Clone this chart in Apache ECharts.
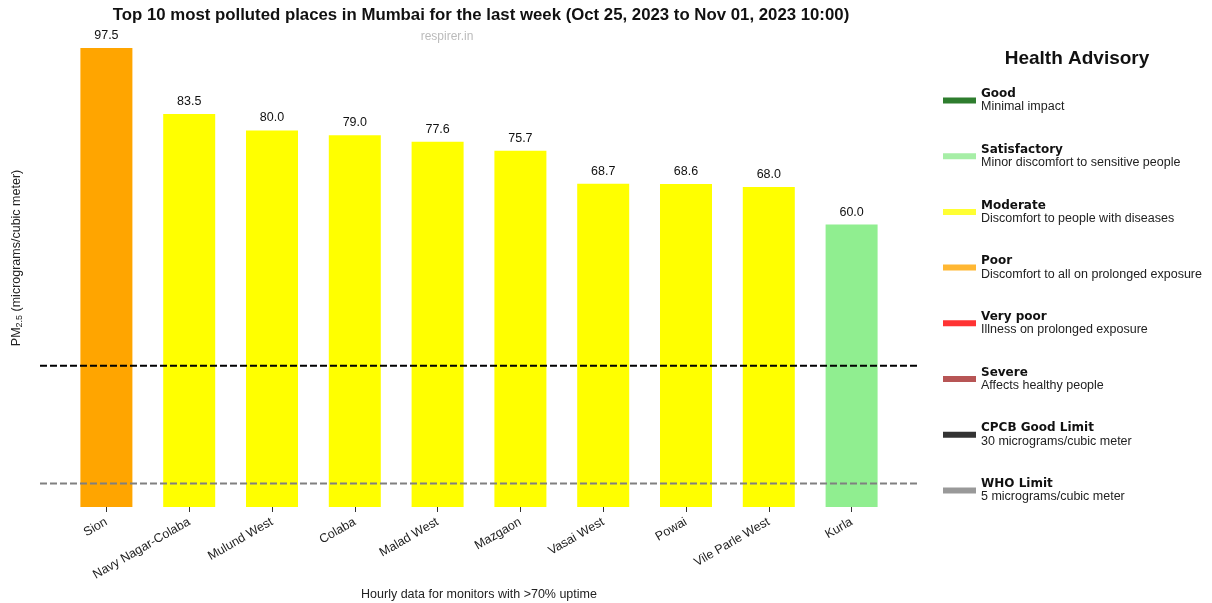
<!DOCTYPE html>
<html>
<head>
<meta charset="utf-8">
<script src="https://cdn.jsdelivr.net/npm/echarts@6/dist/echarts.min.js"></script>
<style>
html, body { margin: 0; padding: 0; background: #fff; }
#chart { width: 1212px; height: 603px; }
</style>
</head>
<body>
<div id="chart"></div>
<script>
var places = ["Sion", "Navy Nagar-Colaba", "Mulund West", "Colaba", "Malad West",
  "Mazgaon", "Vasai West", "Powai", "Vile Parle West", "Kurla"];
var pm25 = [97.5, 83.5, 80.0, 79.0, 77.6, 75.7, 68.7, 68.6, 68.0, 60.0];
var barColors = ["#ffa500", "#ffff00", "#ffff00", "#ffff00", "#ffff00",
  "#ffff00", "#ffff00", "#ffff00", "#ffff00", "#90ee90"];
var cpcbLimit = 30;
var whoLimit = 5;

var advisoryNames = ["Good", "Satisfactory", "Moderate", "Poor", "Very poor",
  "Severe", "CPCB Good Limit", "WHO Limit"];
var advisoryNotes = ["Minimal impact", "Minor discomfort to sensitive people",
  "Discomfort to people with diseases", "Discomfort to all on prolonged exposure",
  "Illness on prolonged exposure", "Affects healthy people",
  "30 micrograms/cubic meter", "5 micrograms/cubic meter"];
var advisoryColors = ["#2e7d2e", "#a6eea6", "#ffff33", "#ffb733", "#ff3333",
  "#b75555", "#333333", "#999999"];

var yMax = 102.4;
var font = "Liberation Sans, Arial, sans-serif";
var boldFont = "DejaVu Sans, sans-serif";

var chart = echarts.init(document.getElementById("chart"));

var series = [
  {
    type: "bar",
    xAxisIndex: 0,
    yAxisIndex: 0,
    barWidth: 52,
    data: pm25.map(function (v, i) {
      return { value: v, itemStyle: { color: barColors[i] } };
    }),
    label: {
      show: true,
      position: "top",
      distance: 6,
      color: "#111",
      fontFamily: font,
      fontSize: 12.5,
      formatter: function (p) { return p.value.toFixed(1); }
    },
    z: 2
  },
  {
    type: "line",
    xAxisIndex: 1,
    yAxisIndex: 1,
    data: [[0, cpcbLimit], [1, cpcbLimit]],
    symbol: "none",
    lineStyle: { color: "#000", width: 2, type: [7, 3] },
    silent: true,
    z: 5
  },
  {
    type: "line",
    xAxisIndex: 1,
    yAxisIndex: 1,
    data: [[0, whoLimit], [1, whoLimit]],
    symbol: "none",
    lineStyle: { color: "#808080", width: 2, type: [7, 3] },
    silent: true,
    z: 5
  }
];

// empty series, only there to feed the advisory legend
advisoryNames.forEach(function (n, i) {
  series.push({
    name: n,
    type: "line",
    xAxisIndex: 1,
    yAxisIndex: 1,
    data: [],
    itemStyle: { color: advisoryColors[i] },
    lineStyle: { color: advisoryColors[i] }
  });
});

var option = {
  animation: false,
  backgroundColor: "#fff",
  title: [
    {
      text: "Top 10 most polluted places in Mumbai for the last week (Oct 25, 2023 to Nov 01, 2023 10:00)",
      left: 476,
      textAlign: "center",
      top: 2,
      textStyle: { fontFamily: font, fontSize: 16.8, fontWeight: "bold", color: "#111" }
    },
    {
      text: "respirer.in",
      left: 442,
      textAlign: "center",
      top: 26,
      textStyle: { fontFamily: font, fontSize: 12, fontWeight: "normal", color: "#bbb" }
    },
    {
      text: "Health Advisory",
      left: 1072,
      textAlign: "center",
      top: 44,
      textStyle: { fontFamily: font, fontSize: 19, fontWeight: "bold", color: "#111" }
    }
  ],
  legend: {
    orient: "vertical",
    left: 938,
    top: 83,
    itemWidth: 33,
    itemHeight: 6,
    itemGap: 30.2,
    icon: "rect",
    selectedMode: false,
    data: advisoryNames,
    formatter: function (name) {
      var i = advisoryNames.indexOf(name);
      return "{t|" + name + "}\n{s|" + advisoryNotes[i] + "}";
    },
    textStyle: {
      rich: {
        t: { fontFamily: boldFont, fontSize: 12, fontWeight: "bold", color: "#111", lineHeight: 13 },
        s: { fontFamily: font, fontSize: 12.5, color: "#222", lineHeight: 13 }
      }
    }
  },
  grid: [
    { left: 65, width: 828, top: 25, height: 482, outerBoundsMode: "none" },
    { left: 40, width: 878, top: 25, height: 482, outerBoundsMode: "none" }
  ],
  xAxis: [
    {
      type: "category",
      gridIndex: 0,
      data: places,
      axisLine: { show: false },
      axisTick: { show: true, alignWithLabel: true, length: 5, lineStyle: { color: "#333" } },
      axisLabel: { rotate: 30, fontFamily: font, fontSize: 12.5, color: "#222", margin: 14 },
      name: "Hourly data for monitors with >70% uptime",
      nameLocation: "middle",
      nameGap: 73,
      nameTextStyle: { fontFamily: font, fontSize: 12.5, color: "#222" }
    },
    {
      type: "value",
      gridIndex: 1,
      min: 0,
      max: 1,
      show: false
    }
  ],
  yAxis: [
    {
      type: "value",
      gridIndex: 0,
      min: 0,
      max: yMax,
      axisLine: { show: false },
      axisTick: { show: false },
      axisLabel: { show: false },
      splitLine: { show: false },
      name: "{m|PM}{sub|2.5}{m| (micrograms/cubic meter)}",
      nameLocation: "middle",
      nameGap: 41,
      nameRotate: 90,
      nameTextStyle: {
        padding: [0, 0, 0, 16],
        rich: {
          m: { fontFamily: font, fontSize: 12.5, color: "#222" },
          sub: { fontFamily: font, fontSize: 9, color: "#222", verticalAlign: "bottom", padding: [5, 0, 0, 0] }
        }
      }
    },
    {
      type: "value",
      gridIndex: 1,
      min: 0,
      max: yMax,
      show: false
    }
  ],
  series: series
};

chart.setOption(option);
</script>
</body>
</html>
